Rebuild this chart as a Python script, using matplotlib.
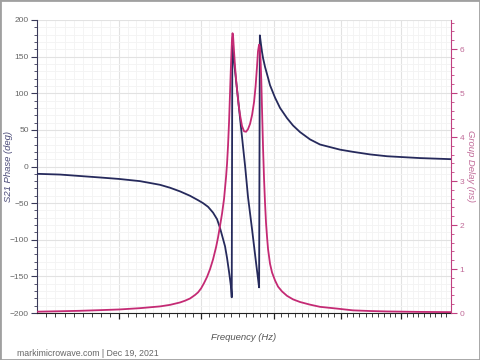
import matplotlib
matplotlib.use('Agg')
import matplotlib.pyplot as plt
import numpy as np
from matplotlib.ticker import FixedLocator, MultipleLocator, NullFormatter
from matplotlib.patches import Rectangle

plt.rcParams['font.family'] = ['Liberation Sans', 'DejaVu Sans']

# Frequency axis (log scale, no tick labels shown in the original)
x_min, x_max = 7.11, 12.89
x_major = [8, 9, 10, 11, 12]

# S21 phase (deg)
phase_freq = [7.111, 7.350, 7.564, 7.785, 8.000, 8.245, 8.485, 8.608, 8.733, 8.859,
              8.962, 9.026, 9.091, 9.157, 9.210, 9.249, 9.276, 9.316, 9.343, 9.370,
              9.383, 9.397, 9.406,
              9.414, 9.451, 9.492, 9.519, 9.560, 9.588, 9.629, 9.657, 9.685, 9.713,
              9.740, 9.768, 9.783,
              9.794, 9.811, 9.825, 9.839, 9.867, 9.910, 9.938, 10.010, 10.082, 10.184,
              10.272, 10.376, 10.526, 10.679, 10.990, 11.197, 11.474, 11.758, 12.329,
              12.890]
phase_deg = [-10, -11, -13, -15, -17, -20, -25, -29, -34, -40,
             -46, -50, -55, -63, -72, -84, -94, -109, -125, -144,
             -154, -165, -178.6,
             165, 130, 92, 66, 27, 1, -42, -64, -86, -109,
             -131, -153, -165,
             179, 166, 156, 148, 136, 121, 111, 94, 80, 66,
             56, 47, 37, 30, 23, 20, 16.5, 14, 11.5,
             10]

# Group delay (ns)
gd_freq = [7.111, 7.350, 7.564, 7.785, 8.000, 8.245, 8.485, 8.608, 8.733, 8.796,
           8.859, 8.923, 8.962, 9.001, 9.039, 9.078, 9.118, 9.157, 9.197, 9.223,
           9.249, 9.276, 9.303, 9.330, 9.343, 9.356, 9.370, 9.383, 9.397, 9.410,
           9.417, 9.424, 9.437, 9.451, 9.465, 9.478, 9.498, 9.519, 9.546, 9.574,
           9.602, 9.629, 9.657, 9.685, 9.713, 9.734, 9.754, 9.768, 9.783, 9.793,
           9.804, 9.814, 9.825, 9.839, 9.853, 9.867, 9.881, 9.896, 9.910, 9.938,
           9.967, 10.010, 10.053, 10.111, 10.184, 10.272, 10.376, 10.526, 10.679, 10.943,
           11.197, 11.474, 11.758, 12.329, 12.890]
gd_ns = [0.03, 0.04, 0.05, 0.065, 0.08, 0.11, 0.15, 0.185, 0.24, 0.28,
         0.33, 0.41, 0.47, 0.56, 0.68, 0.82, 1.00, 1.22, 1.50, 1.72,
         1.98, 2.26, 2.60, 3.10, 3.40, 3.80, 4.35, 5.00, 5.70, 6.25,
         6.36, 6.30, 5.95, 5.60, 5.30, 5.08, 4.75, 4.50, 4.25, 4.13,
         4.12, 4.18, 4.30, 4.50, 4.80, 5.15, 5.60, 5.95, 6.10, 6.05,
         5.75, 5.30, 4.60, 3.75, 3.05, 2.50, 2.05, 1.72, 1.45, 1.12,
         0.92, 0.74, 0.60, 0.49, 0.39, 0.31, 0.25, 0.19, 0.14, 0.10,
         0.06, 0.045, 0.035, 0.025, 0.02]

navy = '#262a5c'
magenta = '#c42a74'

fig = plt.figure(figsize=(4.8, 3.6), dpi=100)
ax1 = fig.add_axes([37/480, 1 - 313/360, (451-37)/480, (313-20)/360])
ax2 = ax1.twinx()

# phase on the left axis
ax1.plot(phase_freq, phase_deg, color=navy, linewidth=1.3, zorder=3)
ax1.set_xscale('log')
ax1.set_xlim(x_min, x_max)
ax1.set_ylim(-200, 200)
ax1.xaxis.set_major_locator(FixedLocator(x_major))
ax1.xaxis.set_minor_locator(FixedLocator(np.round(np.arange(7.2, 12.9, 0.1), 1)))
ax1.xaxis.set_major_formatter(NullFormatter())
ax1.xaxis.set_minor_formatter(NullFormatter())
ax1.yaxis.set_major_locator(MultipleLocator(50))
ax1.yaxis.set_minor_locator(MultipleLocator(10))

ax1.grid(which='major', color='#e2e2e2', linewidth=0.8)
ax1.grid(which='minor', color='#f3f3f3', linewidth=0.6)
ax1.set_axisbelow(True)

ax1.tick_params(axis='y', which='major', length=4, width=0.8, color='#3a3a5a',
                labelsize=6, labelcolor='#666666', pad=2)
ax1.tick_params(axis='y', which='minor', length=2.5, width=0.6, color='#3a3a5a')
ax1.tick_params(axis='x', which='major', length=4, width=0.9, color='#222222')
ax1.tick_params(axis='x', which='minor', length=3, width=0.6, color='#222222')

for s in ['top', 'right']:
    ax1.spines[s].set_visible(False)
ax1.spines['left'].set_color('#3a3a5a')
ax1.spines['bottom'].set_color('#222222')

ax1.set_ylabel('S21 Phase (deg)', fontsize=6.8, style='italic', color='#4a4a78',
               va='center', ha='center')
ax1.yaxis.set_label_coords(-0.068, 0.5)
ax1.set_xlabel('Frequency (Hz)', fontsize=6.8, style='italic', color='#555555', labelpad=7)

# group delay on the right axis
ax2.plot(gd_freq, gd_ns, color=magenta, linewidth=1.3, zorder=3)
ax2.set_ylim(0, 6.66)
ax2.yaxis.set_major_locator(MultipleLocator(1))
ax2.yaxis.set_minor_locator(MultipleLocator(0.2))
ax2.tick_params(axis='y', which='major', length=4, width=0.8, color='#c04080',
                labelsize=6, labelcolor='#c06a98', pad=2)
ax2.tick_params(axis='y', which='minor', length=2.5, width=0.6, color='#c04080')
for s in ['top', 'left', 'bottom']:
    ax2.spines[s].set_visible(False)
ax2.spines['right'].set_color('#c04080')
ax2.set_ylabel('Group Delay (ns)', fontsize=6.8, style='italic', color='#c06a98',
               rotation=270, va='center', ha='center')
ax2.yaxis.set_label_coords(1.047, 0.5)

# footer
fig.text(17/480, 1 - 353/360, 'markimicrowave.com | Dec 19, 2021', fontsize=6.3,
         color='#666666', va='center', ha='left')

# thin border around the whole image
fig.patches.append(Rectangle((0, 0), 1, 1, transform=fig.transFigure, fill=False,
                             edgecolor='#a0a0a0', linewidth=2))

fig.savefig('out.png', dpi=100)
